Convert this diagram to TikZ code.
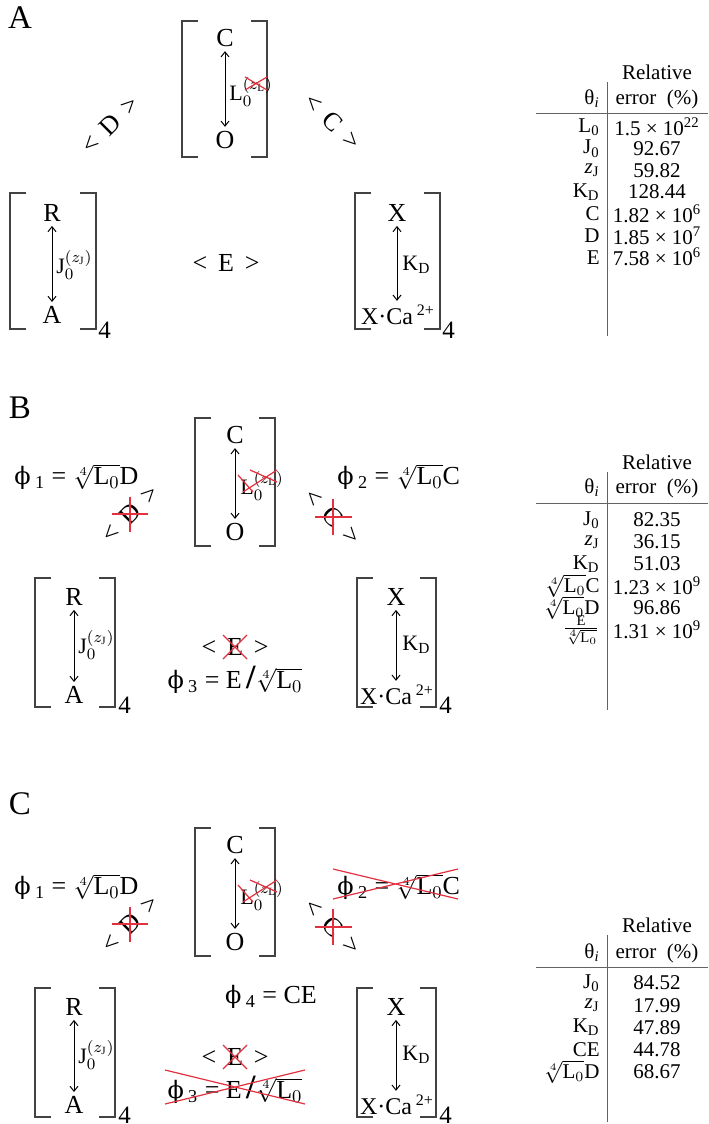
\documentclass[tikz,border=0pt]{standalone}
\usepackage{fontspec}
\setmainfont{Liberation Serif}
\newfontfamily\phifont{DejaVu Serif}
\usetikzlibrary{arrows.meta}
\definecolor{strike}{HTML}{E3303E}
\definecolor{ink}{HTML}{231F20}
\newcommand{\rtL}{$\sqrt[4]{\mathrm{L}_0}$}
\newcommand{\phiS}{{\phifont\fontsize{12}{14}\selectfont ϕ}}
% bracket pair: left x, top y, right x, bottom y
\newcommand{\brkpair}[4]{%
  \draw[brk] ({#1+16},#2) -- (#1,#2) -- (#1,#4) -- ({#1+16},#4);
  \draw[brk] ({#3-16},#2) -- (#3,#2) -- (#3,#4) -- ({#3-16},#4);}
\tikzset{
  lab/.style={font=\fontsize{13}{15}\selectfont, inner sep=1pt},
  sublab/.style={font=\fontsize{11}{13}\selectfont, inner sep=0pt, anchor=west},
  four/.style={font=\fontsize{12.5}{14}\selectfont, inner sep=0pt, anchor=north west},
  tab/.style={font=\fontsize{10.5}{12}\selectfont, inner sep=0pt},
  panel/.style={font=\fontsize{16.5}{18}\selectfont},
  brk/.style={line width=0.7pt, draw=ink!85},
  rule/.style={line width=0.5pt, draw=ink!70},
  xout/.style={draw=strike, line width=0.6pt},
  eq/.style={<->, >={Straight Barb[length=2.5pt,width=4pt]}, line width=0.5pt, shorten <=1pt, shorten >=1pt},
}
\begin{document}
\begin{tikzpicture}[x=0.5pt,y=-0.5pt]
  \useasboundingbox (0,0) rectangle (708,1124);
  % ---------- panel A
  \node[panel] (pA) at (20,18) {A};
  \brkpair{182}{21}{267}{157}
  \node[lab] (cA) at (225,38) {C};
  \node[lab] (oA) at (225,140) {O};
  \draw[eq] (cA) -- (oA);
  \node[sublab] (lA) at (229,92) {$\mathrm{L}_0^{(z_\mathrm{L})}$};
  \draw[xout] (245,77) -- (267,90) (245,90) -- (267,77);
  \node[lab, rotate=45] (dA) at (110,125) {<\ \,D\ \,>};
  \node[lab, rotate=-45] (cpA) at (333,122) {<\ \,C\ \,>};
  \brkpair{10}{193}{96}{329}
  \node[lab] (rA) at (52,213) {R};
  \node[lab] (aA) at (52,315) {A};
  \draw[eq] (rA) -- (aA);
  \node[sublab] (jA) at (56,265) {$\mathrm{J}_0^{(z_\mathrm{J})}$};
  \node[four] (fA) at (98,322) {4};
  \node[lab] (eA) at (226,263) {<\ \,E\ \,>};
  \brkpair{355}{193}{440}{329}
  \node[lab] (xA) at (397,213) {X};
  \node[lab, font=\fontsize{12}{14}\selectfont] (xcA) at (398,315) {X·Ca\,\textsuperscript{2+}};
  \draw[eq] (xA) -- (xA|-xcA.north);
  \node[sublab] (kA) at (402,265) {K\textsubscript{D}};
  \node[four] (gA) at (442,322) {4};
  % table A
  \node[tab] (relA) at (657,72) {Relative};
  \node[tab] (errA) at (657,99) {error\ \ (\%)};
  \node[tab, anchor=east] (thA) at (600,99) {θ\textsubscript{\textit{i}}};
  \draw[rule] (536,113) -- (708,113);
  \draw[rule] (607,82) -- (607,336);
  \foreach \nm/\val [count=\i from 0] in {L\textsubscript{0}/{1.5 × 10\textsuperscript{22}}, J\textsubscript{0}/92.67,
      \textit{z}\textsubscript{J}/59.82, K\textsubscript{D}/128.44, C/{1.82 × 10\textsuperscript{6}},
      D/{1.85 × 10\textsuperscript{7}}, E/{7.58 × 10\textsuperscript{6}}}{
    \node[tab, anchor=east] (nA\i) at (600,{127+21.7*\i}) {\nm};
    \node[tab] (vA\i) at (657,{127+21.7*\i}) {\val};
  }
  % ---------- panels B and C
  \node[panel] (pB) at (20,408) {B};
  \node[panel] (pC) at (20,804) {C};
  \foreach \p/\dy in {B/0,C/410}{
    \brkpair{195}{418+\dy}{275}{546+\dy}
    \node[lab] (c\p) at (235,435+\dy) {C};
    \node[lab] (o\p) at (235,532+\dy) {O};
    \draw[eq] (c\p) -- (o\p);
    \node[sublab] (l\p) at (240,486+\dy) {$\mathrm{L}_0^{(z_\mathrm{L})}$};
    \draw[xout] (238,475+\dy) -- (253,492+\dy) (243,492+\dy) -- (277,470+\dy) (250,470+\dy) -- (277,482+\dy);
    \node[lab, anchor=west] (fa\p) at (12,477+\dy) {\phiS\,\textsubscript{1} = \rtL D};
    \node[lab, anchor=west] (fb\p) at (335,477+\dy) {\phiS\,\textsubscript{2} = \rtL C};
    \node[lab, rotate=45] (d\p) at (130,514+\dy) {<\ \,D\ \,>};
    \draw[xout] (112,514+\dy) -- (148,514+\dy) (130,497+\dy) -- (130,532+\dy);
    \node[lab, rotate=-45] (cp\p) at (333,517+\dy) {<\ \,C\ \,>};
    \draw[xout] (315,517+\dy) -- (352,517+\dy) (333,499+\dy) -- (333,535+\dy);
    \brkpair{35}{578+\dy}{115}{707+\dy}
    \node[lab] (r\p) at (74,597+\dy) {R};
    \node[lab] (a\p) at (74,695+\dy) {A};
    \draw[eq] (r\p) -- (a\p);
    \node[sublab] (j\p) at (78,645+\dy) {$\mathrm{J}_0^{(z_\mathrm{J})}$};
    \node[four] (fl\p) at (118,697+\dy) {4};
    \node[lab] (e\p) at (235,647+\dy) {<\ \,E\ \,>};
    \draw[xout] (223,635+\dy) -- (247,659+\dy) (223,659+\dy) -- (247,635+\dy);
    \node[lab] (fc\p) at (235,680+\dy) {\phiS\,\textsubscript{3} = E\,{\fontsize{17}{17}\selectfont\bfseries /}\rtL};
    \brkpair{357}{578+\dy}{436}{707+\dy}
    \node[lab] (x\p) at (396,597+\dy) {X};
    \node[lab, font=\fontsize{12}{14}\selectfont] (xc\p) at (397,695+\dy) {X·Ca\,\textsuperscript{2+}};
    \draw[eq] (x\p) -- (x\p|-xc\p.north);
    \node[sublab] (k\p) at (402,645+\dy) {K\textsubscript{D}};
    \node[four] (fr\p) at (439,697+\dy) {4};
  }
  % panel C only
  \draw[xout] (333,869) -- (458,899) (333,899) -- (458,869);
  \draw[xout] (165,1070) -- (305,1104) (165,1104) -- (305,1070);
  \node[lab] (fdC) at (271,997) {\phiS\,\textsubscript{4} = CE};
  % table B
  \node[tab] (relB) at (657,462) {Relative};
  \node[tab] (errB) at (657,488) {error\ \ (\%)};
  \node[tab, anchor=east] (thB) at (600,488) {θ\textsubscript{\textit{i}}};
  \draw[rule] (536,503) -- (708,503);
  \draw[rule] (607,472) -- (607,710);
  \foreach \nm/\val [count=\i from 0] in {J\textsubscript{0}/82.35, \textit{z}\textsubscript{J}/36.15,
      K\textsubscript{D}/51.03, {\rtL C}/{1.23 × 10\textsuperscript{9}}, {\rtL D}/96.86,
      {$\frac{\mathrm{E}}{\sqrt[4]{\mathrm{L}_0}}$}/{1.31 × 10\textsuperscript{9}}}{
    \node[tab, anchor=east] (nB\i) at (600,{520+22*\i}) {\nm};
    \node[tab] (vB\i) at (657,{520+22*\i}) {\val};
  }
  % table C
  \node[tab] (relC) at (657,925) {Relative};
  \node[tab] (errC) at (657,953) {error\ \ (\%)};
  \node[tab, anchor=east] (thC) at (600,953) {θ\textsubscript{\textit{i}}};
  \draw[rule] (536,967) -- (708,967);
  \draw[rule] (607,935) -- (607,1122);
  \foreach \nm/\val [count=\i from 0] in {J\textsubscript{0}/84.52, \textit{z}\textsubscript{J}/17.99,
      K\textsubscript{D}/47.89, CE/44.78, {\rtL D}/68.67}{
    \node[tab, anchor=east] (nC\i) at (600,{983+22.2*\i}) {\nm};
    \node[tab] (vC\i) at (657,{983+22.2*\i}) {\val};
  }
\end{tikzpicture}
\end{document}
